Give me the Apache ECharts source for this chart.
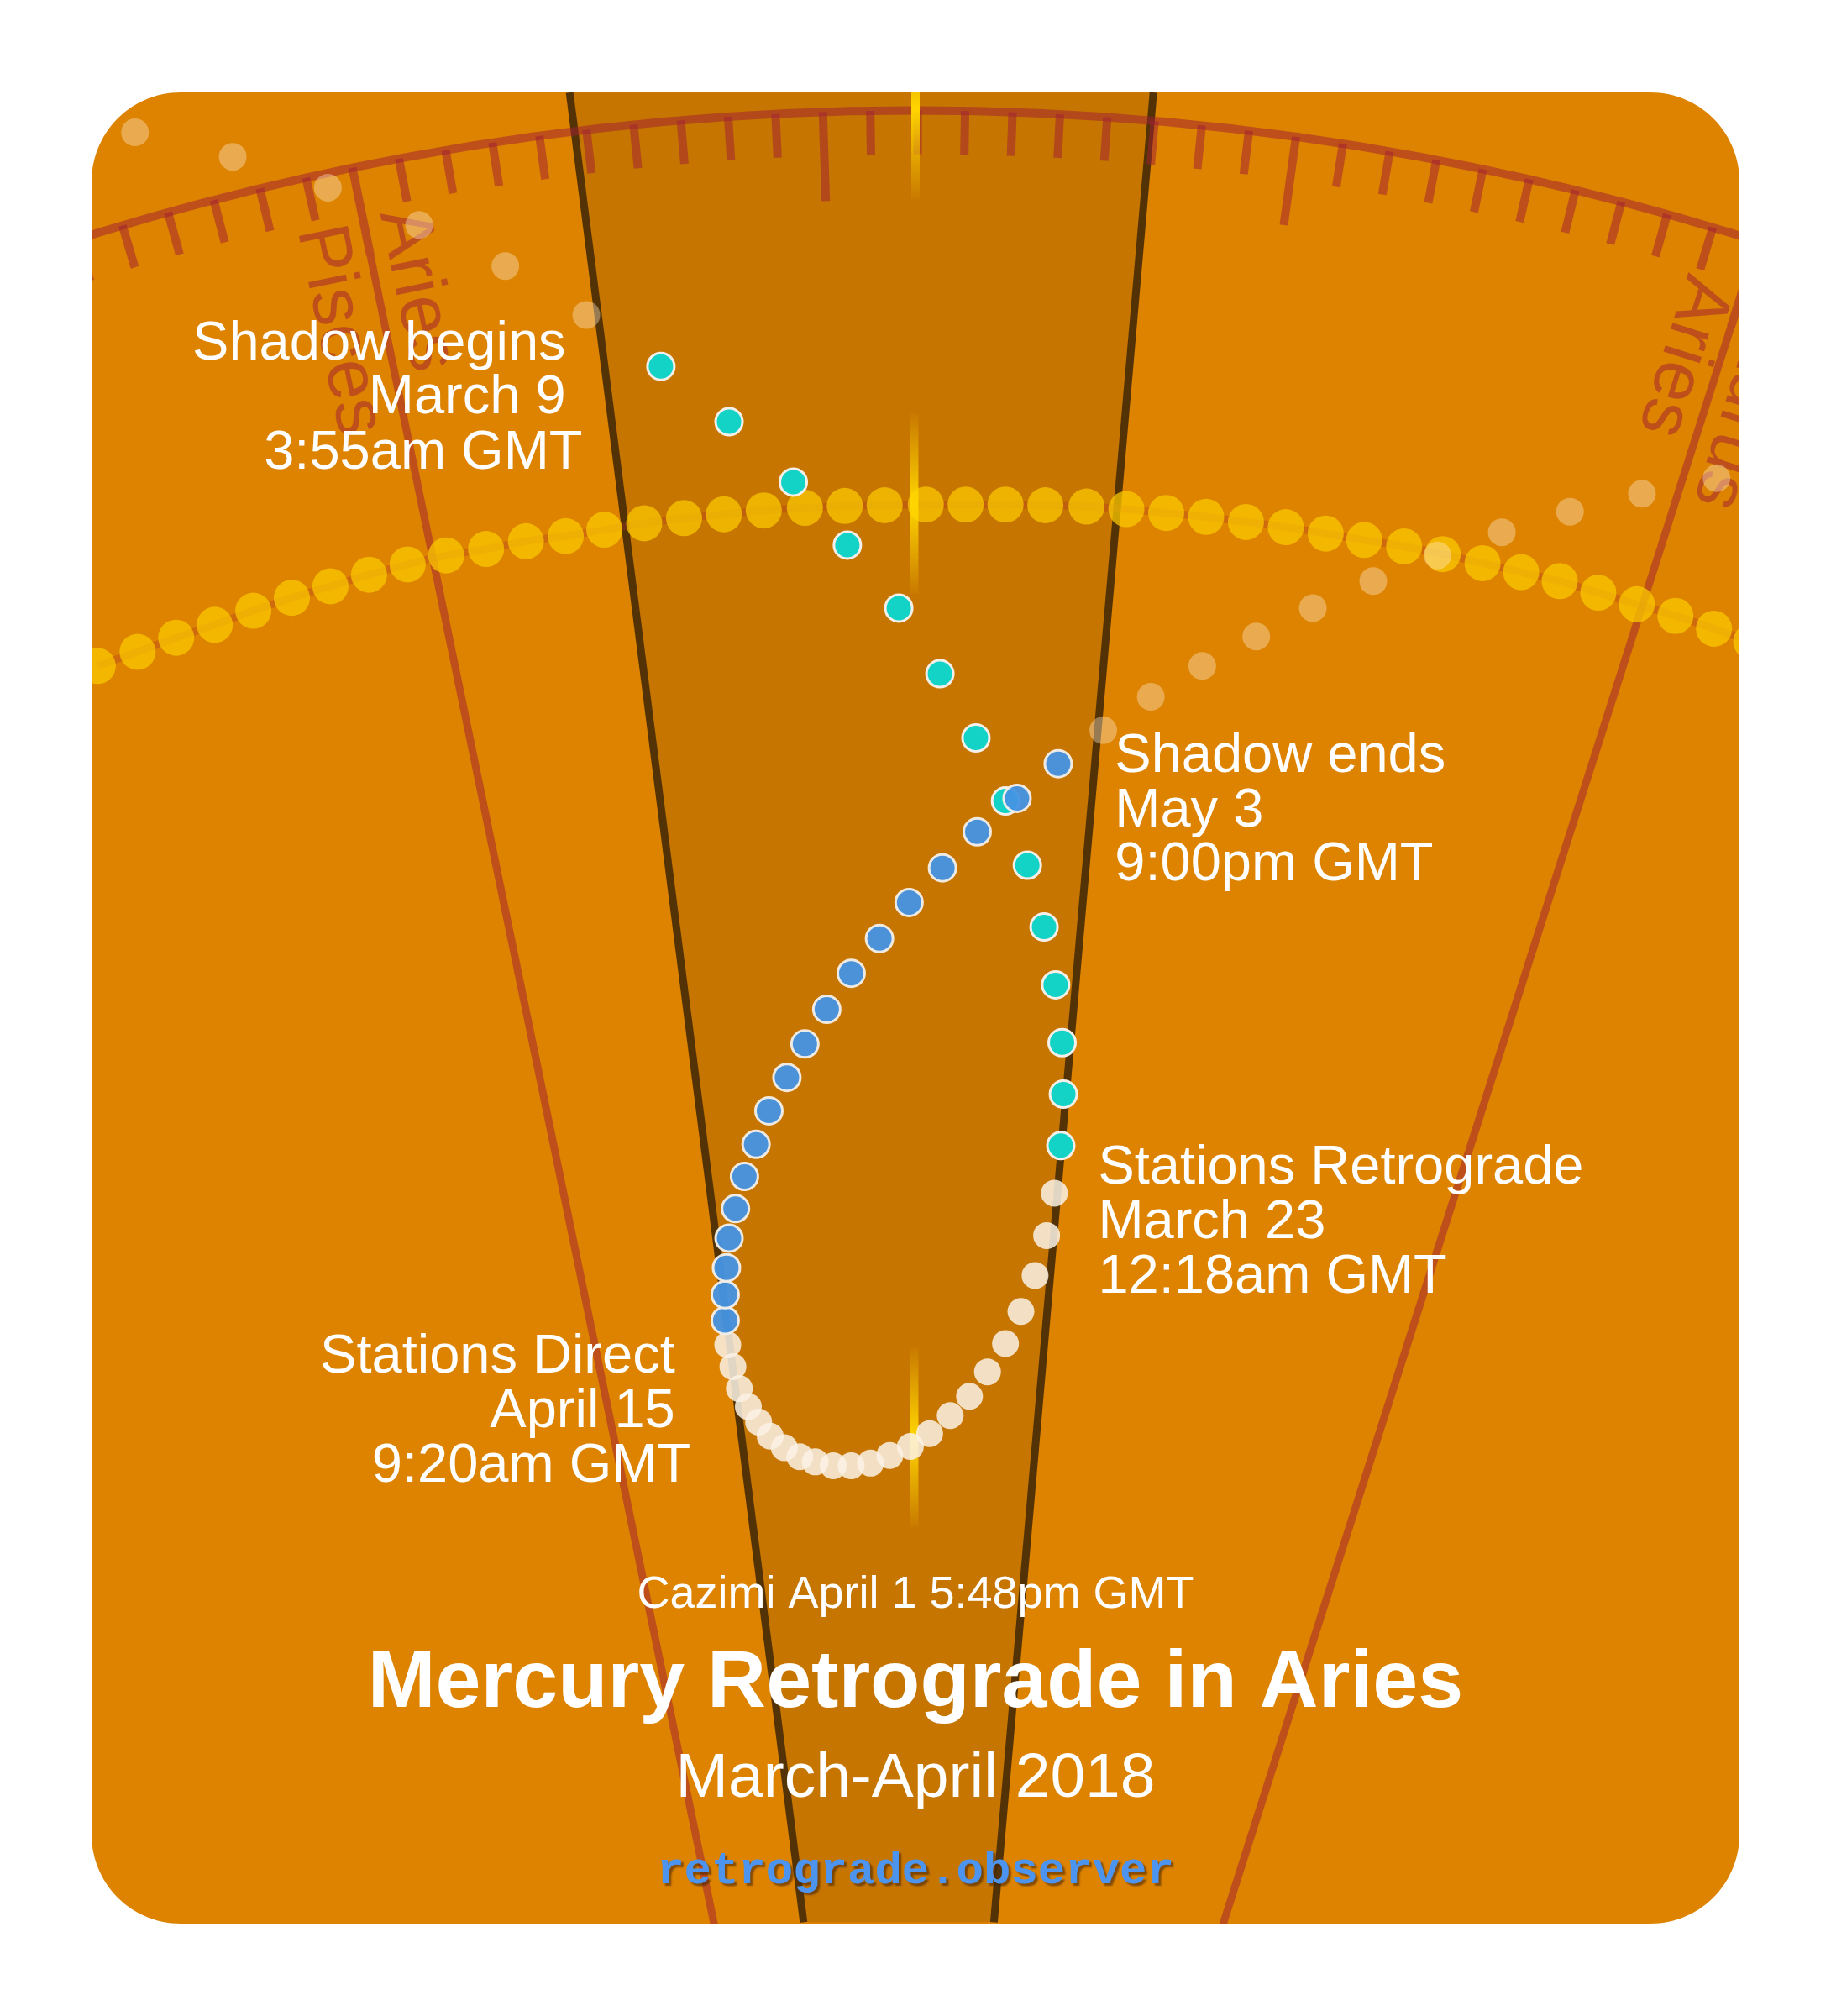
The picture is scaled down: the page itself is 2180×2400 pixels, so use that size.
<!DOCTYPE html>
<html>
<head>
<meta charset="utf-8">
<title>Mercury Retrograde in Aries</title>
<script src="https://cdn.jsdelivr.net/npm/echarts@6/dist/echarts.min.js"></script>
<style>
  html, body { margin: 0; padding: 0; background: #ffffff; }
  #chart { width: 2180px; height: 2400px; }
</style>
</head>
<body>
<div id="chart"></div>
<script>
// positions (1424 x 1568 units)

// Mercury, one dot a day
const beforeShadow = [[105, 103], [181, 122], [255, 146], [326, 175], [393, 207], [456, 245]];
const preShadow = [
  [514, 285], [567, 328], [617, 375], [659, 424], [699, 473], [731, 524], [759, 574],
  [782, 623], [799, 673], [812, 721], [821, 766], [826, 811], [827, 851], [825, 891]
];
const retrograde = [
  [820, 928], [814, 961], [805, 992], [794, 1020], [782, 1045], [768, 1067], [754, 1086],
  [739, 1101], [723, 1115], [708, 1125], [692, 1132], [677, 1138], [662, 1140], [648, 1140],
  [634, 1137], [622, 1133], [610, 1126], [599, 1117], [590, 1106], [582, 1094], [575, 1080],
  [570, 1063], [566, 1046]
];
const postShadow = [
  [564, 1027], [564, 1007], [565, 986], [567, 963], [572, 940], [579, 915], [588, 890],
  [598, 864], [612, 838], [626, 812], [643, 785], [662, 757], [684, 730], [707, 702],
  [733, 675], [760, 647], [791, 621], [823, 594]
];
const afterShadow = [
  [858, 568], [895, 542], [935, 518], [977, 495], [1021, 473], [1068, 452],
  [1118, 432], [1168, 414], [1221, 398], [1277, 384], [1335, 372]
];

// Sun along the ecliptic
const sunX = [76, 107, 137, 167, 197, 227, 257, 287, 317, 347, 378, 409, 440, 470, 501, 532, 563, 594,
  626, 657, 688, 720, 751, 782, 813, 845, 876, 907, 938, 969, 1000, 1031, 1061, 1092, 1122, 1153,
  1183, 1213, 1243, 1273, 1303, 1333, 1362];
const sunY = [518, 507, 496, 486, 475, 465, 456, 447, 439, 432, 427, 421, 417, 412, 407, 403, 400, 397,
  395, 393.5, 393, 392.5, 392.5, 392.5, 393, 394, 396, 399, 402, 406, 410, 415, 420, 425, 431, 438,
  445, 452, 461, 470, 479, 489, 499];

// Sun marks on the path of the beams
const sunMarks = [[712, 85], [711, 392], [711, 1118]];

// edges of the sun's beams
const beamLeft = [[443, 72], [625, 1495]];
const beamRight = [[897, 72], [773, 1495]];

// zodiac scale: centre and radius of the arc, angle of one degree of longitude
const scaleCentre = [711, 2252];
const scaleRadius = 2166;
const degPerLon = 0.976;
const ariesAngle = -11.64; // 0° Aries, clockwise from straight up
const signStarts = [0, 30];
const signNames = [["Pisces", "Aries"], ["Aries", "Taurus"]];

// ---------------------------------------------------------------

const chart = echarts.init(document.getElementById("chart"));

const sunPath = sunX.map((x, i) => [x, sunY[i]]);
const scaleRed = "rgba(161,32,52,0.52)";
const font = '"Liberation Sans", Arial, Helvetica, sans-serif';

const dots = (data, size, itemStyle, z) => ({
  type: "scatter", data, symbolSize: size, itemStyle: Object.assign({ opacity: 1 }, itemStyle),
  z, clip: false, silent: true
});
const edge = (data) => ({
  type: "line", data, symbol: "none", z: 2, silent: true,
  lineStyle: { color: "#533305", width: 9 }
});

const sunGlow = new echarts.graphic.LinearGradient(0, 0, 0, 1, [
  { offset: 0, color: "rgba(255,214,0,0)" },
  { offset: 0.5, color: "rgba(255,214,0,1)" },
  { offset: 1, color: "rgba(255,214,0,0)" }
]);

const series = [
  // sun's beams
  {
    type: "custom", z: 1, silent: true, data: [[0, 0]],
    renderItem: (params, api) => ({
      type: "polygon",
      shape: { points: beamLeft.concat(beamRight.slice().reverse()).map((p) => api.coord(p)) },
      style: { fill: "rgba(0,0,0,0.1)" }
    })
  },
  edge(beamLeft),
  edge(beamRight),
  // ecliptic
  {
    type: "line", data: sunPath, smooth: true, symbol: "none", z: 5, silent: true,
    lineStyle: { color: "rgba(175,45,45,0.3)", width: 9 }
  },
  dots(sunPath, 43, { color: "rgba(250,200,0,0.75)" }, 6),
  ...sunMarks.map((p) => ({
    type: "line", data: [[p[0], p[1] - 70], [p[0], p[1] + 70]], symbol: "none", z: 7, silent: true,
    lineStyle: { width: 10, color: sunGlow }
  })),
  // Mercury
  dots(beforeShadow, 33, { color: "rgba(255,232,200,0.4)" }, 8),
  dots(afterShadow, 33, { color: "rgba(255,232,200,0.4)" }, 8),
  dots(preShadow, 32, { color: "#13D3C7", borderColor: "#F4EFE8", borderWidth: 3 }, 9),
  dots(retrograde, 32, { color: "rgba(250,242,230,0.85)" }, 10),
  dots(postShadow, 32, { color: "#4494E4", borderColor: "#F4EFE8", borderWidth: 3, opacity: 0.95 }, 11)
];

// pass 1: the picture's own frame
chart.setOption({
  animation: false,
  grid: { show: true, left: 109, top: 110, width: 1962, height: 2180, backgroundColor: "#DD8300", borderWidth: 0 },
  xAxis: { type: "value", min: 71.2, max: 1352.8, show: false },
  yAxis: { type: "value", min: 71.9, max: 1496.1, inverse: true, show: false },
  series
});

const toPx = (p) => chart.convertToPixel({ xAxisIndex: 0, yAxisIndex: 0 }, p);
const centre = toPx(scaleCentre);
const radiusPx = centre[1] - toPx([scaleCentre[0], scaleCentre[1] - scaleRadius])[1];

// pass 2: zodiac scale as a polar angle axis
const lonMin = -180;
const lonMax = lonMin + 360 / degPerLon;
chart.setOption({
  polar: { center: centre, radius: radiusPx },
  radiusAxis: { type: "value", min: 0, max: scaleRadius, show: false, splitLine: { show: false } },
  angleAxis: {
    type: "value", min: lonMin, max: lonMax, interval: 10,
    startAngle: 90 - (ariesAngle + lonMin * degPerLon), clockwise: true, z: 4,
    axisLine: { show: true, lineStyle: { color: scaleRed, width: 10 } },
    axisTick: { show: true, inside: true, length: 106, lineStyle: { color: scaleRed, width: 10 } },
    minorTick: { show: true, splitNumber: 10, length: 52, lineStyle: { color: scaleRed, width: 10 } },
    axisLabel: { show: false },
    splitLine: { show: false }
  },
  series: series.concat(signStarts.map((lon) => ({
    type: "line", coordinateSystem: "polar", symbol: "none", z: 3, silent: true,
    data: [[scaleRadius - 69, lon], [700, lon]],
    lineStyle: { color: scaleRed, width: 9 }
  })))
});

// pass 3: texts and the white frame
const text = (t, pos, size, align, weight) => {
  const p = toPx(pos);
  return {
    type: "text", x: p[0], y: p[1], z: 20, silent: true,
    style: {
      text: t, font: (weight ? weight + " " : "") + size + "px " + font, fill: "#ffffff",
      align, verticalAlign: "middle", textAlign: align, textVerticalAlign: "middle"
    }
  };
};

const elements = [
  text("Shadow begins", [440, 268], 65, "right"),
  text("March 9", [440, 310], 65, "right"),
  text("3:55am GMT", [453, 353], 65, "right"),
  text("Shadow ends", [867, 589], 65, "left"),
  text("May 3", [867, 631], 65, "left"),
  text("9:00pm GMT", [867, 673], 65, "left"),
  text("Stations Retrograde", [854, 909], 65, "left"),
  text("March 23", [854, 951], 65, "left"),
  text("12:18am GMT", [854, 994], 65, "left"),
  text("Stations Direct", [525, 1056], 65, "right"),
  text("April 15", [525, 1098], 65, "right"),
  text("9:20am GMT", [537, 1141], 65, "right"),
  text("Cazimi April 1 5:48pm GMT", [712, 1241], 54, "center"),
  text("Mercury Retrograde in Aries", [712, 1310], 97, "center", "bold"),
  text("March-April 2018", [712, 1384], 75, "center")
];

const site = text("retrograde.observer", [712, 1456], 54, "center");
site.style.font = 'bold 54px "Liberation Mono", "DejaVu Sans Mono", monospace';
site.style.fill = "#4D94EE";
site.style.textShadowColor = "rgba(60,30,0,0.55)";
site.style.textShadowOffsetX = 3;
site.style.textShadowOffsetY = 3;
site.style.textShadowBlur = 2;
elements.push(site);

// sign names along the boundary lines
const labelGap = [[55, 45], [44, 44.5]];
signStarts.forEach((lon, i) => {
  const p = chart.convertToPixel({ polarIndex: 0 }, [2127, lon]);
  let dx = centre[0] - p[0];
  let dy = centre[1] - p[1];
  const len = Math.hypot(dx, dy);
  dx /= len;
  dy /= len;
  const rot = Math.atan2(-dy, dx);
  [-1, 1].forEach((side, k) => {
    const gap = labelGap[i][k];
    elements.push({
      type: "text", silent: true, z: 3,
      x: p[0] + side * dy * gap, y: p[1] - side * dx * gap, rotation: rot,
      style: {
        text: signNames[i][k], font: "86px " + font, fill: scaleRed,
        align: "left", verticalAlign: "middle", textAlign: "left", textVerticalAlign: "middle"
      }
    });
  });
});

// white surround with rounded corners
const L = 109, T = 110, R = 2071, B = 2290, r = 106;
const white = { fill: "#ffffff" };
[
  { x: 0, y: 0, width: L, height: 2400 },
  { x: R, y: 0, width: 2180 - R, height: 2400 },
  { x: 0, y: 0, width: 2180, height: T },
  { x: 0, y: B, width: 2180, height: 2400 - B }
].forEach((shape) => elements.push({ type: "rect", shape, style: white, z: 100, silent: true }));

// corner pieces: corner point plus a quarter circle
[
  [L, T, L + r, T + r, 180],
  [R, T, R - r, T + r, 270],
  [R, B, R - r, B - r, 0],
  [L, B, L + r, B - r, 90]
].forEach(([px, py, cx, cy, a0]) => {
  const points = [[px, py]];
  for (let a = a0; a <= a0 + 90; a += 3) {
    const t = (a * Math.PI) / 180;
    points.push([cx + r * Math.cos(t), cy + r * Math.sin(t)]);
  }
  elements.push({ type: "polygon", shape: { points }, style: white, z: 100, silent: true });
});

chart.setOption({ graphic: { elements } });
</script>
</body>
</html>
